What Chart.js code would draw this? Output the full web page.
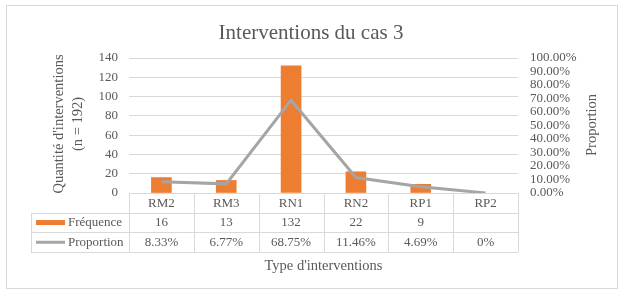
<!DOCTYPE html>
<html lang="fr">
<head>
<meta charset="utf-8">
<title>Interventions du cas 3</title>
<script src="https://cdn.jsdelivr.net/npm/chart.js@4"></script>
<style>
  body { margin: 0; background: #fff; }
  canvas { display: block; }
</style>
</head>
<body>
<canvas id="graphique" width="620" height="291"></canvas>
<script>
// Données
const categories = ['RM2', 'RM3', 'RN1', 'RN2', 'RP1', 'RP2'];
const frequences = [16, 13, 132, 22, 9, null];
const proportions = [8.33, 6.77, 68.75, 11.46, 4.69, 0];
const etiquettesProportion = ['8.33%', '6.77%', '68.75%', '11.46%', '4.69%', '0%'];

const POLICE = '"Liberation Serif", "Times New Roman", serif';
const GRIS_TEXTE = '#595959';
const GRIS_LIGNE = '#d9d9d9';
const ORANGE = '#ED7D31';
const GRIS_SERIE = '#A5A5A5';

// Plugin qui dessine le tableau de données, les titres et le cadre
const tableauDonnees = {
    id: 'tableauDonnees',
    afterDraw(chart) {
        const ctx = chart.ctx;
        const x = chart.scales.x;
        const zone = chart.chartArea;
        const demi = (zone.right - zone.left) / categories.length / 2;
        const gauche = 31;
        const haut = zone.bottom;
        const hLigne = 19.7;

        ctx.save();
        ctx.strokeStyle = GRIS_LIGNE;
        ctx.lineWidth = 1;

        // lignes horizontales du tableau
        ctx.beginPath();
        ctx.moveTo(zone.left, Math.round(haut) + 0.5);
        ctx.lineTo(zone.right, Math.round(haut) + 0.5);
        for (let r = 1; r <= 3; r++) {
            const yy = Math.round(haut + r * hLigne) + 0.5;
            ctx.moveTo(gauche, yy);
            ctx.lineTo(zone.right, yy);
        }
        // lignes verticales
        for (let i = 0; i <= categories.length; i++) {
            const xx = Math.round(zone.left + i * demi * 2) + 0.5;
            ctx.moveTo(xx, haut);
            ctx.lineTo(xx, haut + 3 * hLigne);
        }
        ctx.moveTo(gauche + 0.5, haut + hLigne);
        ctx.lineTo(gauche + 0.5, haut + 3 * hLigne);
        ctx.stroke();

        // textes du tableau
        ctx.fillStyle = GRIS_TEXTE;
        ctx.font = '13px ' + POLICE;
        ctx.textAlign = 'center';
        ctx.textBaseline = 'middle';
        categories.forEach((c, i) => {
            const cx = x.getPixelForValue(i);
            ctx.fillText(c, cx, haut + hLigne * 0.5 + 0.5);
            ctx.fillText(frequences[i] === null ? '' : String(frequences[i]), cx, haut + hLigne * 1.5 + 0.5);
            ctx.fillText(etiquettesProportion[i], cx, haut + hLigne * 2.5 + 0.5);
        });

        // légende dans le tableau
        ctx.fillStyle = ORANGE;
        ctx.fillRect(36, haut + hLigne * 1.5 - 2.5, 29, 5);
        ctx.strokeStyle = GRIS_SERIE;
        ctx.lineWidth = 3;
        ctx.beginPath();
        ctx.moveTo(36, haut + hLigne * 2.5);
        ctx.lineTo(65, haut + hLigne * 2.5);
        ctx.stroke();
        ctx.fillStyle = GRIS_TEXTE;
        ctx.textAlign = 'left';
        ctx.font = '13px ' + POLICE;
        ctx.fillText('Fréquence', 68, haut + hLigne * 1.5 + 0.5);
        ctx.fillText('Proportion', 68, haut + hLigne * 2.5 + 0.5);

        // titre de l'axe horizontal
        ctx.textAlign = 'center';
        ctx.font = '14.5px ' + POLICE;
        ctx.fillText("Type d'interventions", (zone.left + zone.right) / 2, 266);

        // titres des axes verticaux
        ctx.save();
        ctx.translate(59, 124);
        ctx.rotate(-Math.PI / 2);
        ctx.fillText("Quantité d'interventions", 0, 0);
        ctx.fillText('(n = 192)', 0, 19);
        ctx.restore();
        ctx.save();
        ctx.translate(592, 125);
        ctx.rotate(-Math.PI / 2);
        ctx.fillText('Proportion', 0, 0);
        ctx.restore();

        // titre principal
        ctx.font = '21px ' + POLICE;
        ctx.fillText('Interventions du cas 3', 311, 33);

        // cadre
        ctx.strokeStyle = GRIS_LIGNE;
        ctx.lineWidth = 1;
        ctx.strokeRect(6.5, 5.5, 611, 283);
        ctx.restore();
    }
};

new Chart(document.getElementById('graphique'), {
    type: 'bar',
    data: {
        labels: categories,
        datasets: [
            {
                type: 'line',
                label: 'Proportion',
                data: proportions,
                yAxisID: 'y1',
                borderColor: GRIS_SERIE,
                borderWidth: 3,
                pointRadius: 0,
                tension: 0,
                order: 1
            },
            {
                type: 'bar',
                label: 'Fréquence',
                data: frequences,
                yAxisID: 'y',
                backgroundColor: ORANGE,
                barThickness: 20,
                order: 2
            }
        ]
    },
    options: {
        responsive: false,
        animation: false,
        layout: { padding: { top: 58, left: 0, right: 0, bottom: 0 } },
        plugins: {
            legend: { display: false },
            title: { display: false },
            tooltip: { enabled: false }
        },
        scales: {
            x: {
                grid: { display: false },
                border: { display: false },
                ticks: { display: false },
                afterFit: s => { s.height = 98; }
            },
            y: {
                position: 'left',
                min: 0,
                max: 140,
                ticks: {
                    stepSize: 20,
                    padding: 11,
                    color: GRIS_TEXTE,
                    font: { family: POLICE, size: 13 }
                },
                grid: { color: GRIS_LIGNE, drawTicks: false },
                border: { display: false },
                afterFit: s => { s.width = 129; }
            },
            y1: {
                position: 'right',
                min: 0,
                max: 100,
                ticks: {
                    stepSize: 10,
                    autoSkip: false,
                    padding: 12,
                    color: GRIS_TEXTE,
                    font: { family: POLICE, size: 13, lineHeight: 1 },
                    callback: v => v.toFixed(2) + '%'
                },
                grid: { display: false, drawTicks: false },
                border: { display: false },
                afterFit: s => { s.width = 102; }
            }
        }
    },
    plugins: [tableauDonnees]
});
</script>
</body>
</html>
